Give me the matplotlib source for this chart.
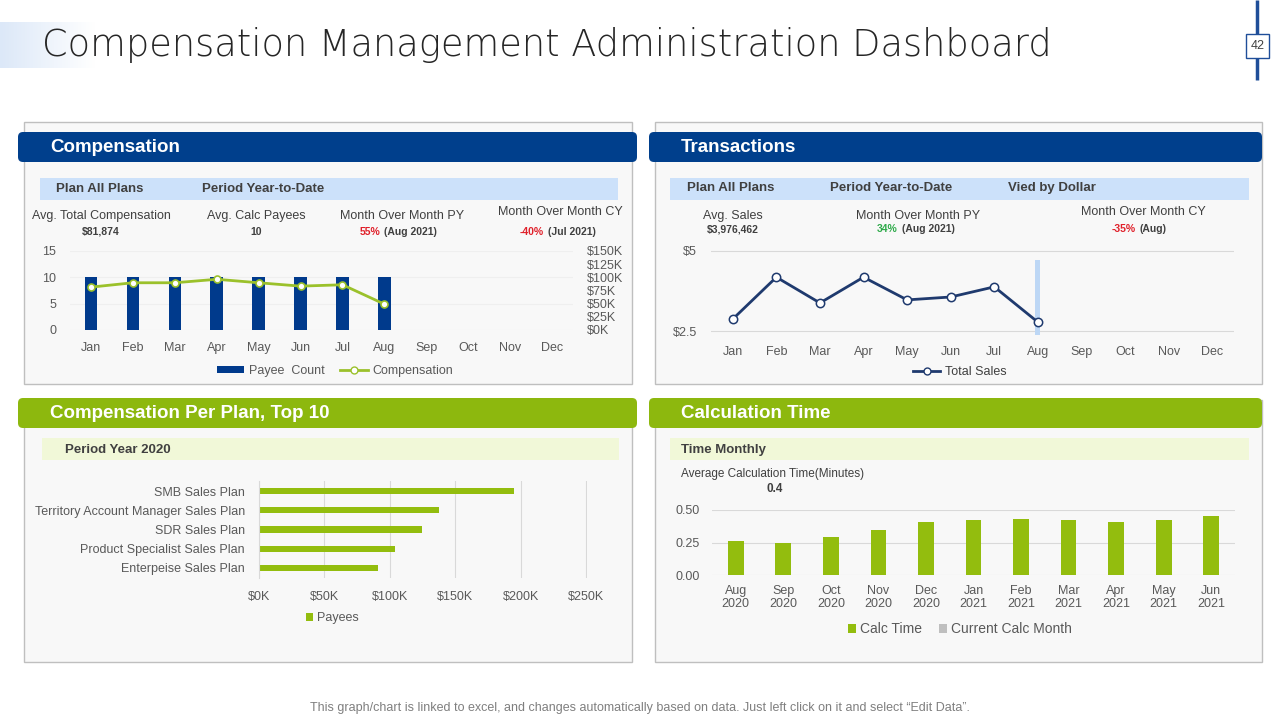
import matplotlib
matplotlib.use("Agg")
import numpy as np
import matplotlib.pyplot as plt
from matplotlib.patches import FancyBboxPatch, Rectangle
from matplotlib.lines import Line2D
from matplotlib.colors import LinearSegmentedColormap
from matplotlib.ticker import FuncFormatter, FixedLocator

plt.rcParams['font.family'] = ['Liberation Sans', 'DejaVu Sans']

# ---------------- data ----------------
months = ["Jan", "Feb", "Mar", "Apr", "May", "Jun", "Jul", "Aug", "Sep", "Oct", "Nov", "Dec"]
payee_count = [10, 10, 10, 10, 10, 10, 10, 10]
compensation = [81400, 89700, 89700, 96300, 89700, 83300, 85900, 49100]

total_sales = [2.875, 4.175, 3.375, 4.175, 3.47, 3.56, 3.875, 2.78]
current_month_highlight = [0, 0, 0, 0, 0, 0, 0, 4.72]

plans = ["SMB Sales Plan", "Territory Account Manager Sales Plan", "SDR Sales Plan",
         "Product Specialist Sales Plan", "Enterpeise Sales Plan"]
plan_payees = [195000, 138000, 125000, 104000, 91000]

calc_months = ["Aug\n2020", "Sep\n2020", "Oct\n2020", "Nov\n2020", "Dec\n2020", "Jan\n2021",
               "Feb\n2021", "Mar\n2021", "Apr\n2021", "May\n2021", "Jun\n2021"]
calc_time = [0.265, 0.25, 0.296, 0.35, 0.405, 0.42, 0.428, 0.42, 0.405, 0.42, 0.451]
current_calc = [0, 0, 0, 0, 0, 0, 0, 0, 0, 0, 0]

# ---------------- colours ----------------
NAVY = "#003F8C"
GREEN = "#8DB80E"
BAR_GREEN = "#93BD0E"
LIGHT_BLUE = "#CCE1FA"
LIGHT_GREEN = "#F1F8D8"
PANEL_BG = "#F8F8F8"
BORDER = "#BFBFBF"
TXT = "#404040"
TICK = "#595959"
RED = "#E0202A"
GRN_TXT = "#2EAA4A"
LINE_NAVY = "#1F3A6E"

W, H = 1280, 720
fig = plt.figure(figsize=(12.8, 7.2), dpi=100)
fig.patch.set_facecolor("white")

bg = fig.add_axes([0, 0, 1, 1], zorder=0)
bg.set_xlim(0, W)
bg.set_ylim(H, 0)
bg.axis("off")


def px_axes(x0, y0, x1, y1, z=2):
    return fig.add_axes([x0 / W, 1 - y1 / H, (x1 - x0) / W, (y1 - y0) / H], zorder=z)


# ---------------- title area ----------------
grad_cmap = LinearSegmentedColormap.from_list("g", ["#DCE8F8", "#FFFFFF"])
grad = np.linspace(0, 1, 200).reshape(1, -1)
bg.imshow(grad, cmap=grad_cmap, extent=(0, 95, 68, 22), aspect="auto", zorder=0.5)
bg.set_xlim(0, W)
bg.set_ylim(H, 0)
bg.text(42, 45, "Compensation Management Administration Dashboard", fontsize=26.5,
        family=["DejaVu Sans"], fontweight="light", color="#262626", va="center", ha="left")
bg.plot([1257, 1257], [0, 80], color="#1F4E99", lw=2.5, solid_capstyle="butt")
bg.add_patch(Rectangle((1246, 34), 23, 24, facecolor="white", edgecolor="#1F4E99", lw=1,
                       zorder=3))
bg.text(1257.5, 46, "42", fontsize=9, ha="center", va="center", color="#404040", zorder=4)

bg.text(640, 708, "This graph/chart is linked to excel, and changes automatically based on data. "
        "Just left click on it and select \u201cEdit Data\u201d.", fontsize=9, color="#7F7F7F",
        ha="center", va="center")


# ---------------- panels ----------------
def panel(x0, y0, x1, y1, hx0, hx1, hy0, title, color):
    bg.add_patch(Rectangle((x0, y0), x1 - x0, y1 - y0, facecolor=PANEL_BG,
                           edgecolor=BORDER, lw=1))
    bg.add_patch(FancyBboxPatch((hx0, hy0), hx1 - hx0, 30,
                                boxstyle="round,pad=0,rounding_size=5",
                                facecolor=color, edgecolor="none", zorder=2))
    bg.text(hx0 + 32, hy0 + 15.5, title, color="white", fontsize=13.5, fontweight="bold",
            va="center", ha="left", zorder=3)


panel(24, 122, 632, 384, 18, 637, 132, "Compensation", NAVY)
panel(655, 122, 1262, 384, 649, 1262, 132, "Transactions", NAVY)
panel(24, 400, 632, 662, 18, 637, 398, "Compensation Per Plan, Top 10", GREEN)
panel(655, 400, 1262, 662, 649, 1262, 398, "Calculation Time", GREEN)

# sub-header bars
bg.add_patch(Rectangle((40, 178), 578, 22, facecolor=LIGHT_BLUE, lw=0))
bg.text(56, 189, "Plan All Plans", fontsize=9.5, fontweight="bold", color=TXT, va="center")
bg.text(202, 189, "Period Year-to-Date", fontsize=9.5, fontweight="bold", color=TXT, va="center")

bg.add_patch(Rectangle((670, 178), 579, 22, facecolor=LIGHT_BLUE, lw=0))
bg.text(687, 188, "Plan All Plans", fontsize=9.5, fontweight="bold", color=TXT, va="center")
bg.text(830, 188, "Period Year-to-Date", fontsize=9.5, fontweight="bold", color=TXT, va="center")
bg.text(1008, 188, "Vied by Dollar", fontsize=9.5, fontweight="bold", color=TXT, va="center")

bg.add_patch(Rectangle((42, 438), 577, 22, facecolor=LIGHT_GREEN, lw=0))
bg.text(65, 450, "Period Year 2020", fontsize=9.5, fontweight="bold", color=TXT, va="center")

bg.add_patch(Rectangle((670, 438), 579, 22, facecolor=LIGHT_GREEN, lw=0))
bg.text(681, 450, "Time Monthly", fontsize=9.5, fontweight="bold", color=TXT, va="center")


# KPI texts
def kpi(x, y, label, fs=9):
    bg.text(x, y, label, fontsize=fs, color=TXT, ha="center", va="center")


def val(x, y, s):
    bg.text(x, y, s, fontsize=7.5, color=TXT, fontweight="bold", ha="center", va="center")


def split_val(xs, y, colored, rest, col):
    bg.text(xs - 2, y, colored, fontsize=7.5, color=col, fontweight="bold", ha="right",
            va="center")
    bg.text(xs + 2, y, rest, fontsize=7.5, color=TXT, fontweight="bold", ha="left",
            va="center")


kpi(101, 216, "Avg. Total Compensation")
val(101, 232, "$81,874")
kpi(256, 216, "Avg. Calc Payees")
val(256, 232, "10")
kpi(402, 216, "Month Over Month PY")
split_val(382, 232, "55%", "(Aug 2021)", RED)
kpi(560, 212, "Month Over Month CY")
split_val(546, 232, "-40%", "(Jul 2021)", RED)

kpi(733, 216, "Avg. Sales")
val(733, 229, "$3,976,462")
kpi(918, 216, "Month Over Month PY")
split_val(900, 229, "34%", "(Aug 2021)", GRN_TXT)
kpi(1143, 212, "Month Over Month CY")
split_val(1138, 229, "-35%", "(Aug)", RED)

bg.text(681, 474, "Average Calculation Time(Minutes)", fontsize=8.5, color=TXT, va="center")
bg.text(775, 489, "0.4", fontsize=8.5, color=TXT, fontweight="bold", ha="center", va="center")


def clean(ax):
    ax.set_facecolor("none")
    for s in ax.spines.values():
        s.set_visible(False)
    ax.tick_params(length=0, labelsize=9, labelcolor=TICK)


# ---------------- chart 1 : compensation ----------------
ax1 = px_axes(70, 251, 573, 330)
clean(ax1)
x1 = list(range(len(payee_count)))
ax1.bar(x1, payee_count, width=0.3, color="#003A8C", zorder=2)
ax1.set_xlim(-0.5, 11.5)
ax1.set_ylim(0, 15)
ax1.set_yticks([0, 5, 10, 15])
ax1.set_xticks(range(12))
ax1.set_xticklabels(months)
ax1.tick_params(axis="x", pad=9)
ax1.tick_params(axis="y", pad=10)
ax1.grid(axis="y", color="#EFEFEF", lw=0.8, zorder=0)
ax1.set_axisbelow(True)

ax1b = ax1.twinx()
clean(ax1b)
ax1b.plot(x1, compensation, color="#9BC12B", lw=2, marker="o", markersize=5,
          markerfacecolor="white", markeredgecolor="#9BC12B", markeredgewidth=1.2, zorder=3)
ax1b.set_ylim(0, 150000)
ax1b.yaxis.set_major_locator(FixedLocator([0, 25000, 50000, 75000, 100000, 125000, 150000]))
ax1b.yaxis.set_major_formatter(FuncFormatter(lambda v, p: f"${v/1000:.0f}K"))
ax1b.tick_params(axis="y", pad=10)
for lab in ax1b.get_yticklabels():
    lab.set_fontsize(9)

h1 = [Rectangle((0, 0), 1, 1, facecolor="#003A8C"),
      Line2D([0], [0], color="#9BC12B", lw=2, marker="o", markersize=5,
             markerfacecolor="white", markeredgecolor="#9BC12B")]
leg = ax1b.legend(h1, ["Payee  Count", "Compensation"], loc="center",
                  bbox_to_anchor=(335 / W, 1 - 371 / H), bbox_transform=fig.transFigure,
                  ncol=2, frameon=False, fontsize=9, handlelength=2.2, handleheight=0.5,
                  columnspacing=1.2, handletextpad=0.4)
for t in leg.get_texts():
    t.set_color(TICK)

# ---------------- chart 2 : transactions ----------------
ax2 = px_axes(711, 249, 1234, 335)
clean(ax2)
x2 = list(range(len(total_sales)))
ax2.bar(range(len(current_month_highlight)), [v - 2.38 if v else 0 for v in current_month_highlight],
        bottom=2.38, width=0.11, color="#BDD7F5", zorder=1)
ax2.plot(x2, total_sales, color=LINE_NAVY, lw=2, marker="o", markersize=6,
         markerfacecolor="white", markeredgecolor=LINE_NAVY, markeredgewidth=1.1, zorder=3)
ax2.set_xlim(-0.5, 11.5)
ax2.set_ylim(2.38, 5.05)
ax2.set_yticks([2.5, 5])
ax2.set_yticklabels(["$2.5", "$5"])
ax2.set_xticks(range(12))
ax2.set_xticklabels(months)
ax2.tick_params(axis="x", pad=8)
ax2.tick_params(axis="y", pad=10)
ax2.grid(axis="y", color="#D9D9D9", lw=0.8, zorder=0)
ax2.set_axisbelow(True)
leg2 = ax2.legend([Line2D([0], [0], color=LINE_NAVY, lw=2, marker="o", markersize=5,
                          markerfacecolor="white", markeredgecolor=LINE_NAVY)],
                  ["Total Sales"], loc="center", bbox_to_anchor=(960 / W, 1 - 372 / H),
                  bbox_transform=fig.transFigure, frameon=False, fontsize=9,
                  handlelength=2.2, handletextpad=0.4)
for t in leg2.get_texts():
    t.set_color(TXT)

# ---------------- chart 3 : compensation per plan ----------------
ax3 = px_axes(259, 481.4, 587, 577.6)
clean(ax3)
y3 = list(range(len(plans)))
ax3.barh(y3, plan_payees, height=0.33, color=BAR_GREEN, zorder=2)
ax3.set_ylim(len(plans) - 0.5, -0.5)
ax3.set_yticks(y3)
ax3.set_yticklabels(plans)
ax3.set_xlim(0, 250800)
ax3.set_xticks([0, 50000, 100000, 150000, 200000, 250000])
ax3.xaxis.set_major_formatter(FuncFormatter(lambda v, p: f"${v/1000:.0f}K"))
ax3.grid(axis="x", color="#D9D9D9", lw=0.8, zorder=0)
ax3.set_axisbelow(True)
ax3.spines["left"].set_visible(True)
ax3.spines["left"].set_color("#D9D9D9")
ax3.tick_params(axis="x", pad=10)
ax3.tick_params(axis="y", pad=10)
leg3 = ax3.legend([Rectangle((0, 0), 1, 1, facecolor=BAR_GREEN)], ["Payees"], loc="center",
                  bbox_to_anchor=(332 / W, 1 - 618 / H), bbox_transform=fig.transFigure,
                  frameon=False, fontsize=9, handlelength=0.6, handleheight=0.6,
                  handletextpad=0.3)
for t in leg3.get_texts():
    t.set_color(TICK)

# ---------------- chart 4 : calculation time ----------------
ax4 = px_axes(712, 510, 1235, 575)
clean(ax4)
x4 = list(range(len(calc_time)))
ax4.bar(x4, calc_time, width=0.33, color=BAR_GREEN, zorder=2)
ax4.bar(x4, current_calc, width=0.33, color="#BFBFBF", zorder=2)
ax4.set_xlim(-0.5, 10.5)
ax4.set_ylim(0, 0.5)
ax4.set_yticks([0, 0.25, 0.5])
ax4.yaxis.set_major_formatter(FuncFormatter(lambda v, p: f"{v:.2f}"))
ax4.set_xticks(x4)
ax4.set_xticklabels(calc_months, linespacing=1.15)
ax4.grid(axis="y", color="#D9D9D9", lw=0.8, zorder=0)
ax4.set_axisbelow(True)
ax4.tick_params(axis="x", pad=7)
ax4.tick_params(axis="y", pad=9)
leg4 = ax4.legend([Rectangle((0, 0), 1, 1, facecolor=BAR_GREEN),
                   Rectangle((0, 0), 1, 1, facecolor="#BFBFBF")],
                  ["Calc Time", "Current Calc Month"], loc="center",
                  bbox_to_anchor=(960 / W, 1 - 629 / H), bbox_transform=fig.transFigure,
                  ncol=2, frameon=False, fontsize=10, handlelength=0.6, handleheight=0.6,
                  handletextpad=0.3, columnspacing=1.2)
for t in leg4.get_texts():
    t.set_color(TICK)

fig.savefig("out.png", dpi=100, facecolor="white")
